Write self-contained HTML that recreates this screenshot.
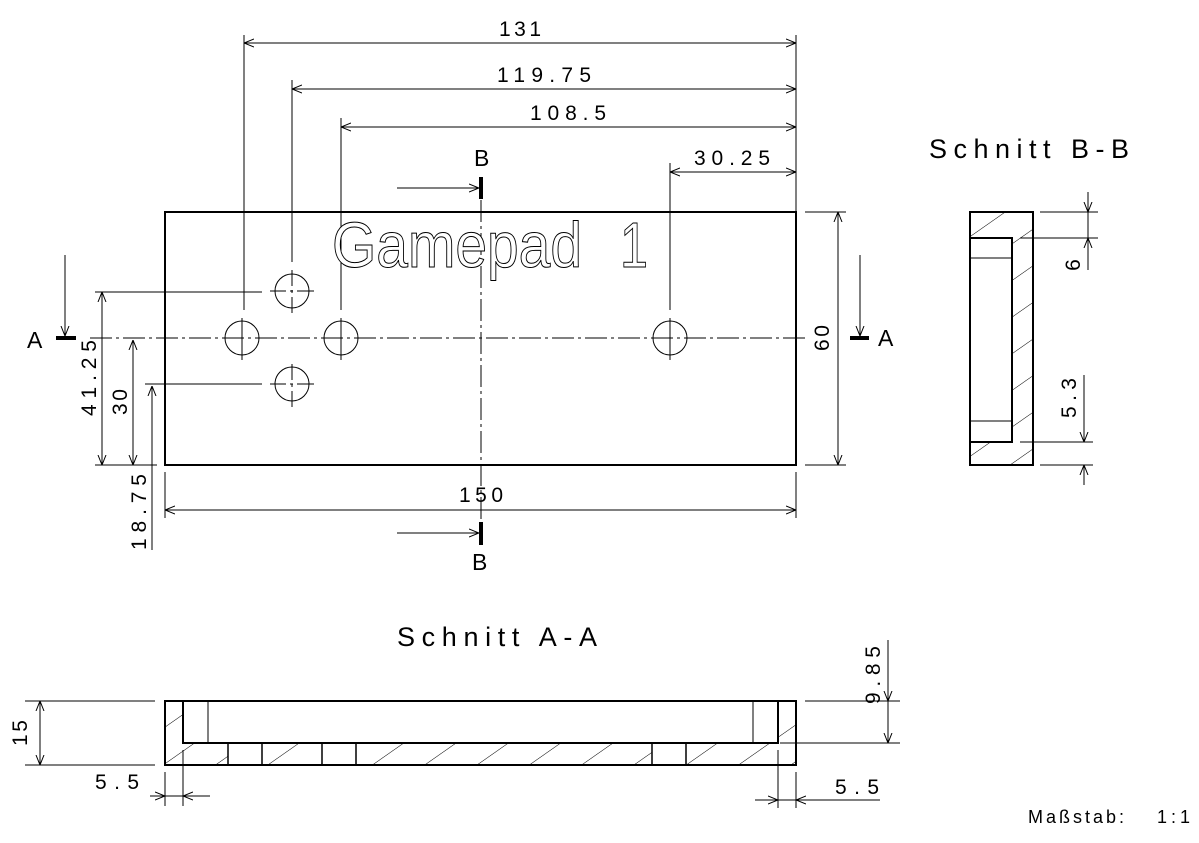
<!DOCTYPE html>
<html><head><meta charset="utf-8"><style>
html,body{margin:0;padding:0;background:#fff}
svg{display:block}
text{font-family:"Liberation Sans",sans-serif;fill:#000}
.d{font-size:21px}
</style></head><body>
<svg width="1199" height="843" viewBox="0 0 1199 843" xmlns="http://www.w3.org/2000/svg">
<defs>
<pattern id="h" patternUnits="userSpaceOnUse" width="30" height="30" patternTransform="rotate(55)">
<line x1="0" y1="0" x2="0" y2="30" stroke="#000" stroke-width="1"/>
</pattern>
<marker id="a" viewBox="0 0 10 10" refX="10" refY="5" markerWidth="10" markerHeight="10" orient="auto-start-reverse" markerUnits="userSpaceOnUse"><path d="M0,1 L10,5 L0,9" fill="none" stroke="#000" stroke-width="1"/></marker>
</defs>
<g stroke="#000" fill="none" stroke-width="1">
<rect x="165" y="212" width="631" height="253" stroke-width="2"/>
<line x1="90" y1="338" x2="808" y2="338" stroke-dasharray="22,4,3,4"/>
<line x1="481" y1="200" x2="481" y2="522" stroke-dasharray="22,4,3,4"/>
<circle cx="242" cy="338" r="17"/><circle cx="341" cy="338" r="17"/><circle cx="670" cy="338" r="17"/>
<circle cx="292" cy="291" r="17"/><circle cx="292" cy="384" r="17"/>
<line x1="270" y1="291" x2="314" y2="291" stroke-dasharray="16,4,3,4,20"/>
<line x1="270" y1="384" x2="314" y2="384" stroke-dasharray="16,4,3,4,20"/>
<line x1="292" y1="270" x2="292" y2="313" stroke-dasharray="16,4,3,4,20"/>
<line x1="292" y1="364" x2="292" y2="407" stroke-dasharray="16,4,3,4,20"/>
<line x1="242" y1="318" x2="242" y2="360"/>
<line x1="341" y1="318" x2="341" y2="360"/>
<line x1="670" y1="318" x2="670" y2="360"/>
<line x1="244" y1="35" x2="244" y2="310"/>
<line x1="292" y1="80" x2="292" y2="262"/>
<line x1="341" y1="118" x2="341" y2="310"/>
<line x1="670" y1="163" x2="670" y2="310"/>
<line x1="796" y1="35" x2="796" y2="212"/>
<line x1="244" y1="43" x2="796" y2="43" marker-start="url(#a)" marker-end="url(#a)"/>
<line x1="292" y1="89" x2="796" y2="89" marker-start="url(#a)" marker-end="url(#a)"/>
<line x1="341" y1="127" x2="796" y2="127" marker-start="url(#a)" marker-end="url(#a)"/>
<line x1="670" y1="172" x2="796" y2="172" marker-start="url(#a)" marker-end="url(#a)"/>
<line x1="95" y1="292" x2="262" y2="292"/>
<line x1="145" y1="384" x2="262" y2="384"/>
<line x1="95" y1="465" x2="157" y2="465"/>
<line x1="102" y1="292" x2="102" y2="465" marker-start="url(#a)" marker-end="url(#a)"/>
<line x1="133" y1="340" x2="133" y2="465" marker-start="url(#a)" marker-end="url(#a)"/>
<line x1="152" y1="386" x2="152" y2="465" marker-start="url(#a)"/>
<line x1="152" y1="465" x2="152" y2="550"/>
<line x1="165" y1="472" x2="165" y2="518"/>
<line x1="796" y1="472" x2="796" y2="518"/>
<line x1="165" y1="510" x2="796" y2="510" marker-start="url(#a)" marker-end="url(#a)"/>
<line x1="805" y1="212" x2="846" y2="212"/>
<line x1="805" y1="465" x2="846" y2="465"/>
<line x1="838" y1="212" x2="838" y2="465" marker-start="url(#a)" marker-end="url(#a)"/>
<line x1="56" y1="338" x2="76" y2="338" stroke-width="4"/>
<line x1="65" y1="255" x2="65" y2="336" marker-end="url(#a)"/>
<line x1="850" y1="338" x2="869" y2="338" stroke-width="4"/>
<line x1="860" y1="255" x2="860" y2="336" marker-end="url(#a)"/>
<line x1="481" y1="177" x2="481" y2="199" stroke-width="4"/>
<line x1="397" y1="188" x2="479" y2="188" marker-end="url(#a)"/>
<line x1="481" y1="522" x2="481" y2="545" stroke-width="4"/>
<line x1="397" y1="533" x2="479" y2="533" marker-end="url(#a)"/>

<rect x="970" y="212" width="63" height="253" fill="url(#h)"/>
<rect x="970" y="238" width="42" height="204" fill="#fff"/>
<rect x="970" y="212" width="63" height="253" stroke-width="2"/>
<rect x="970" y="238" width="42" height="204" stroke-width="2"/>
<line x1="970" y1="258" x2="1012" y2="258"/>
<line x1="970" y1="421" x2="1012" y2="421"/>
<line x1="1040" y1="212" x2="1098" y2="212"/>
<line x1="1020" y1="238" x2="1098" y2="238"/>
<line x1="1088" y1="192" x2="1088" y2="212" marker-end="url(#a)"/>
<line x1="1088" y1="270" x2="1088" y2="238" marker-end="url(#a)"/>
<line x1="1088" y1="212" x2="1088" y2="238"/>
<line x1="1020" y1="442" x2="1093" y2="442"/>
<line x1="1040" y1="465" x2="1093" y2="465"/>
<line x1="1084" y1="375" x2="1084" y2="442" marker-end="url(#a)"/>
<line x1="1084" y1="485" x2="1084" y2="465" marker-end="url(#a)"/>

<rect x="165" y="701" width="631" height="64" fill="url(#h)"/>
<rect x="183" y="701" width="595" height="42" fill="#fff"/>
<rect x="228" y="743" width="34" height="22" fill="#fff"/>
<rect x="322" y="743" width="34" height="22" fill="#fff"/>
<rect x="652" y="743" width="34" height="22" fill="#fff"/>
<rect x="165" y="701" width="631" height="64" stroke-width="2"/>
<path d="M183,701 V743 H778 V701" stroke-width="2"/>
<line x1="208" y1="701" x2="208" y2="743"/>
<line x1="753" y1="701" x2="753" y2="743"/>
<path d="M228,743 V765 M262,743 V765 M322,743 V765 M356,743 V765 M652,743 V765 M686,743 V765" stroke-width="1.5"/>
<line x1="25" y1="701" x2="155" y2="701"/>
<line x1="25" y1="765" x2="155" y2="765"/>
<line x1="40" y1="701" x2="40" y2="765" marker-start="url(#a)" marker-end="url(#a)"/>
<line x1="805" y1="701" x2="900" y2="701"/>
<line x1="780" y1="743" x2="900" y2="743"/>
<line x1="888" y1="640" x2="888" y2="743"/>
<line x1="888" y1="680" x2="888" y2="701" marker-end="url(#a)"/>
<line x1="888" y1="725" x2="888" y2="743" marker-end="url(#a)"/>
<line x1="165" y1="772" x2="165" y2="806"/>
<line x1="183" y1="750" x2="183" y2="806"/>
<line x1="150" y1="796" x2="210" y2="796"/>
<line x1="150" y1="796" x2="165" y2="796" marker-end="url(#a)"/>
<line x1="210" y1="796" x2="183" y2="796" marker-end="url(#a)"/>
<line x1="778" y1="750" x2="778" y2="808"/>
<line x1="796" y1="772" x2="796" y2="808"/>
<line x1="755" y1="800" x2="880" y2="800"/>
<line x1="755" y1="800" x2="778" y2="800" marker-end="url(#a)"/>
<line x1="880" y1="800" x2="796" y2="800" marker-end="url(#a)"/>
</g>

<text x="332" y="267" font-size="64" textLength="250" lengthAdjust="spacingAndGlyphs" stroke="#000" stroke-width="1" style="fill:#fff">Gamepad</text>
<text x="620" y="267" font-size="64" textLength="28" lengthAdjust="spacingAndGlyphs" stroke="#000" stroke-width="1" style="fill:#fff">1</text>
<text class="d" x="499" y="36" textLength="42">131</text>
<text class="d" x="497" y="82" textLength="94">119.75</text>
<text class="d" x="530" y="120" textLength="76">108.5</text>
<text class="d" x="694" y="165" textLength="76">30.25</text>
<text class="d" x="459" y="502" textLength="44">150</text>
<text x="474" y="166" font-size="23">B</text>
<text x="472" y="570" font-size="23">B</text>
<text x="27" y="348" font-size="23">A</text>
<text x="878" y="346" font-size="23">A</text>
<text class="d" transform="translate(829,338) rotate(-90)" text-anchor="middle" textLength="26">60</text>
<text class="d" transform="translate(96,378) rotate(-90)" text-anchor="middle" textLength="76">41.25</text>
<text class="d" transform="translate(127,402) rotate(-90)" text-anchor="middle" textLength="26">30</text>
<text class="d" transform="translate(146,512) rotate(-90)" text-anchor="middle" textLength="76">18.75</text>
<text x="929" y="158" font-size="27" textLength="200">Schnitt B-B</text>
<text class="d" transform="translate(1080,265) rotate(-90)" text-anchor="middle">6</text>
<text class="d" transform="translate(1076,398) rotate(-90)" text-anchor="middle" textLength="40">5.3</text>
<text x="397" y="646" font-size="27" textLength="200">Schnitt A-A</text>
<text class="d" transform="translate(27,733) rotate(-90)" text-anchor="middle" textLength="26">15</text>
<text class="d" transform="translate(880,675) rotate(-90)" text-anchor="middle" textLength="58">9.85</text>
<text class="d" x="95" y="789" textLength="44">5.5</text>
<text class="d" x="835" y="794" textLength="44">5.5</text>
<text x="1028" y="823" font-size="18" textLength="96">Maßstab:</text>
<text x="1157" y="823" font-size="18" textLength="33">1:1</text>
</svg>
</body></html>
